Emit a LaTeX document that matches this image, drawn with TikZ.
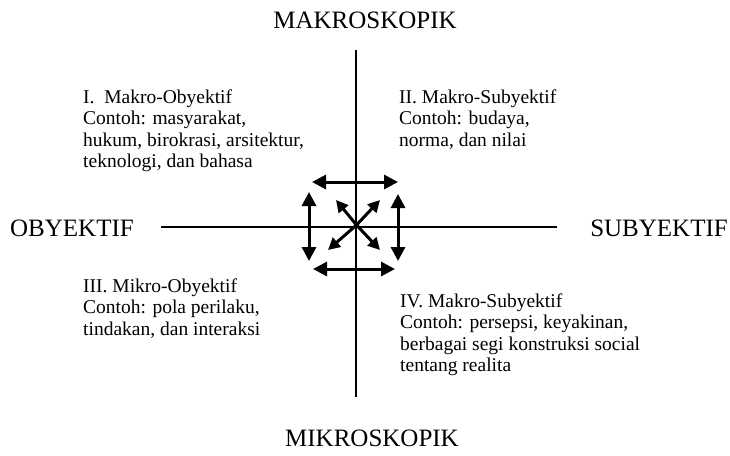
\documentclass[tikz,border=0pt]{standalone}
\usepackage{fontspec}
\setmainfont{Liberation Serif}
\usetikzlibrary{arrows.meta}
\begin{document}
\begin{tikzpicture}[x=1pt,y=-1pt,
  axis/.style={line width=1.8pt},
  bigarrow/.style={line width=3pt,{Triangle[length=14pt,width=14pt]}-{Triangle[length=14pt,width=14pt]}},
  diagarrow/.style={line width=3pt,-{Triangle[length=12pt,width=12pt]}},
  lbl/.style={inner sep=0pt,anchor=base,font=\fontsize{25}{28}\selectfont},
  quad/.style={inner sep=0pt,anchor=base west,align=left,font=\fontsize{19.5}{21.5}\selectfont}]
\useasboundingbox (0,0) rectangle (730,455);
% axes
\coordinate (top) at (356,50);
\coordinate (bot) at (356,397);
\coordinate (lft) at (161,227);
\coordinate (rgt) at (557,227);
\draw[axis] (top) -- (bot);
\draw[axis] (lft) -- (rgt);
% labels
\node[lbl] (makro) at (365,28) {MAKROSKOPIK};
\node[lbl] (mikro) at (372,446) {MIKROSKOPIK};
\node[lbl] (obj) at (72,236) {OBYEKTIF};
\node[lbl,anchor=base east] (subj) at (728,236) {SUBYEKTIF};
% quadrant texts (anchor at baseline of last line)
\node[quad] (q1) at (83,167.5) {I.\ \ Makro-Obyektif\\Contoh: masyarakat,\\hukum, birokrasi, arsitektur,\\teknologi, dan bahasa};
\node[quad] (q2) at (399,146) {II. Makro-Subyektif\\Contoh: budaya,\\norma, dan nilai};
\node[quad] (q3) at (83,335) {III. Mikro-Obyektif\\Contoh: pola perilaku,\\tindakan, dan interaksi};
\node[quad] (q4) at (400,371.5) {IV. Makro-Subyektif\\Contoh: persepsi, keyakinan,\\berbagai segi konstruksi social\\tentang realita};
% arrow end points
\coordinate (ta) at (312,182); \coordinate (tb) at (398,182);
\coordinate (ba) at (313,269); \coordinate (bb) at (395,269);
\coordinate (la) at (309,192); \coordinate (lb) at (309,261);
\coordinate (ra) at (398,194); \coordinate (rb) at (398,261);
\coordinate (c) at (356.5,225);
\coordinate (nw) at (336,200); \coordinate (ne) at (380,200);
\coordinate (sw) at (328,250); \coordinate (se) at (380,250);
\draw[bigarrow] (ta) -- (tb);
\draw[bigarrow] (ba) -- (bb);
\draw[bigarrow] (la) -- (lb);
\draw[bigarrow] (ra) -- (rb);
\draw[diagarrow] (c) -- (nw);
\draw[diagarrow] (c) -- (ne);
\draw[diagarrow] (c) -- (sw);
\draw[diagarrow] (c) -- (se);
\end{tikzpicture}
\end{document}
